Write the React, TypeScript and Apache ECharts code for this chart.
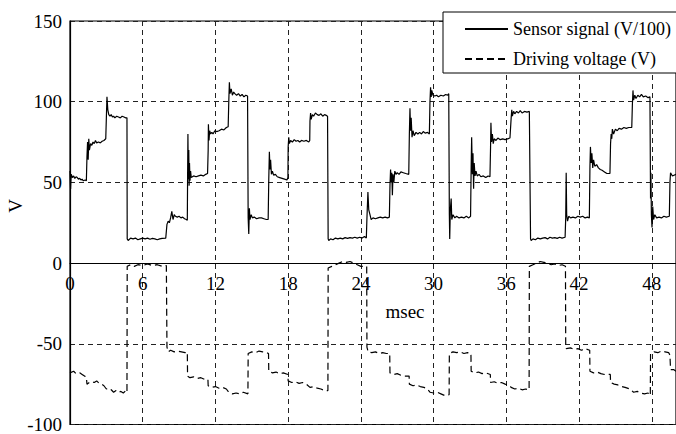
import React, { useEffect, useRef } from "react";
import * as echarts from "echarts";

const FONT = "Liberation Serif";

const xTicks = [0, 6, 12, 18, 24, 30, 36, 42, 48];
const yTicks = [-100, -50, 0, 50, 100, 150];
const legendNames = ["Sensor signal (V/100)", "Driving voltage (V)"];

// [msec, V/100]
const sensorSignal: [number, number][] = [
  [0, 57], [0.05, 46], [0.1, 55], [0.2, 53], [0.3, 54], [0.4, 52.5], [0.5, 53.5], [0.6, 53], [0.7, 52], [0.8, 52.5], [0.9, 51.5], [1.0, 52], [1.1, 51], [1.25, 51.5], [1.35, 51],
  [1.4, 66], [1.45, 75], [1.5, 64], [1.55, 77], [1.6, 70], [1.7, 74], [1.8, 73], [1.9, 75], [2.0, 74], [2.1, 76], [2.2, 74.5], [2.35, 75], [2.5, 74.5], [2.65, 75.5], [2.8, 76], [2.95, 77],
  [3.0, 90], [3.05, 103], [3.12, 95], [3.2, 92], [3.3, 91], [3.4, 92], [3.5, 90.5], [3.6, 91], [3.7, 90], [3.85, 91], [4.0, 90.5], [4.15, 90], [4.3, 91], [4.45, 90.5], [4.6, 90], [4.7, 90],
  [4.72, 15], [4.8, 14], [5.0, 15.5], [5.2, 15], [5.4, 15.5], [5.6, 14.5], [5.8, 15], [6.0, 15.5], [6.2, 15], [6.4, 15.5], [6.6, 14.8], [6.8, 15.3], [7.0, 15], [7.2, 14.5], [7.4, 15], [7.6, 15.3], [7.9, 15.5],
  [8.0, 24], [8.1, 26], [8.2, 25], [8.3, 28], [8.4, 32], [8.5, 27], [8.6, 30], [8.7, 29], [8.85, 28.5], [9.0, 29], [9.15, 28], [9.3, 28.5], [9.45, 27.5], [9.6, 27], [9.68, 26.5],
  [9.7, 50], [9.73, 80], [9.76, 52], [9.8, 70], [9.83, 48], [9.86, 62], [9.9, 51], [9.95, 57], [10.0, 53], [10.2, 54], [10.4, 53.5], [10.6, 54], [10.8, 54.5], [11.0, 54], [11.2, 55], [11.35, 55.5],
  [11.4, 70], [11.42, 86], [11.47, 76], [11.52, 82], [11.6, 80], [11.7, 81], [11.8, 80], [11.95, 82], [12.1, 81.5], [12.3, 82], [12.5, 83], [12.7, 82.5], [12.9, 84], [13.05, 84.5],
  [13.1, 100], [13.15, 112], [13.2, 105], [13.3, 108], [13.4, 104], [13.5, 106], [13.6, 105], [13.75, 104], [13.9, 105], [14.05, 103.5], [14.2, 104.5], [14.35, 103], [14.5, 104], [14.65, 103.5],
  [14.7, 28], [14.75, 18], [14.8, 34], [14.85, 27], [14.95, 30], [15.05, 28], [15.2, 28.5], [15.4, 27.5], [15.6, 28], [15.8, 28], [16.0, 27.5], [16.2, 27], [16.35, 27],
  [16.4, 52], [16.45, 69], [16.5, 58], [16.55, 64], [16.62, 55], [16.7, 57], [16.8, 54.5], [16.95, 55], [17.1, 53.5], [17.3, 53], [17.5, 52.5], [17.7, 52], [17.9, 51.5], [17.98, 53],
  [18.0, 72], [18.05, 78], [18.1, 74], [18.2, 76], [18.35, 75], [18.5, 76.5], [18.65, 75.5], [18.8, 76], [18.95, 75], [19.1, 76], [19.3, 75.5], [19.5, 76], [19.7, 75], [19.78, 76],
  [19.8, 88], [19.85, 93], [19.9, 89], [20.0, 92], [20.1, 91], [20.25, 93], [20.4, 92], [20.55, 91.5], [20.7, 92.5], [20.85, 91], [21.0, 92], [21.15, 91.5], [21.25, 91],
  [21.3, 15], [21.35, 14], [21.5, 15], [21.7, 14.5], [21.9, 15.5], [22.1, 15], [22.3, 15.5], [22.5, 15], [22.7, 15.8], [22.9, 15.3], [23.1, 15.8], [23.3, 15.5], [23.5, 16], [23.7, 15.5], [23.9, 16], [24.1, 15.5], [24.3, 16.5], [24.45, 15.5],
  [24.5, 28], [24.58, 44], [24.65, 33], [24.75, 30], [24.85, 27], [25.0, 28], [25.2, 27.5], [25.4, 28], [25.6, 28.5], [25.8, 28], [26.0, 28.5], [26.2, 28], [26.35, 28.5],
  [26.4, 48], [26.45, 58], [26.5, 50], [26.55, 56], [26.6, 42], [26.65, 55], [26.72, 50], [26.8, 57], [26.9, 55], [27.0, 56], [27.15, 55], [27.3, 56.5], [27.5, 56], [27.7, 55.5], [27.95, 55],
  [28.0, 80], [28.05, 96], [28.1, 82], [28.15, 90], [28.22, 78], [28.3, 82], [28.4, 79], [28.55, 81], [28.7, 80], [28.85, 81], [29.0, 80], [29.15, 81.5], [29.3, 80.5], [29.5, 81], [29.65, 80],
  [29.7, 100], [29.75, 109], [29.8, 103], [29.85, 107], [29.95, 104], [30.1, 103.5], [30.25, 104], [30.4, 103], [30.6, 104], [30.8, 103.5], [31.0, 104.5], [31.15, 104], [31.25, 105],
  [31.3, 30], [31.33, 15], [31.38, 33], [31.45, 40], [31.5, 27], [31.6, 30], [31.75, 28], [31.9, 29], [32.1, 28], [32.3, 28.5], [32.5, 28], [32.7, 29], [32.9, 28], [33.05, 29],
  [33.1, 60], [33.14, 78], [33.2, 55], [33.25, 68], [33.3, 46], [33.35, 62], [33.42, 54], [33.5, 57], [33.6, 54], [33.75, 55], [33.9, 53.5], [34.1, 54], [34.3, 53], [34.5, 54], [34.65, 53.5],
  [34.7, 72], [34.73, 87], [34.78, 75], [34.85, 80], [34.92, 74], [35.0, 77], [35.15, 76], [35.3, 77.5], [35.5, 76.5], [35.7, 77], [35.9, 76.5], [36.1, 77], [36.3, 77.5],
  [36.4, 90], [36.45, 95], [36.5, 91], [36.6, 94], [36.7, 92.5], [36.85, 94], [37.0, 93], [37.15, 94.5], [37.3, 93], [37.5, 94], [37.7, 93.5], [37.9, 94],
  [38.0, 15], [38.05, 14], [38.2, 15], [38.4, 14.5], [38.6, 15.5], [38.8, 15], [39.0, 15.5], [39.2, 15.8], [39.4, 15], [39.6, 16], [39.8, 15.5], [40.0, 15.8], [40.2, 15.3], [40.4, 16], [40.6, 15.5], [40.85, 16],
  [40.9, 28], [40.94, 56], [40.98, 30], [41.05, 26], [41.15, 29], [41.3, 28], [41.5, 28.5], [41.7, 28], [41.9, 29], [42.1, 28.5], [42.3, 29], [42.5, 28], [42.7, 28.5], [42.85, 28],
  [42.9, 60], [42.94, 72], [43.0, 62], [43.06, 68], [43.13, 59], [43.2, 64], [43.3, 60], [43.45, 61], [43.6, 59], [43.75, 58], [43.9, 57.5], [44.1, 56.5], [44.3, 55.5], [44.55, 55.5],
  [44.6, 74], [44.65, 80], [44.7, 77], [44.75, 83], [44.85, 80], [45.0, 83], [45.15, 82], [45.3, 83.5], [45.5, 83], [45.7, 84], [45.9, 83.5], [46.1, 84], [46.35, 84],
  [46.4, 98], [46.45, 107], [46.5, 101], [46.6, 104], [46.7, 102], [46.85, 104], [47.0, 103], [47.15, 104.5], [47.3, 103], [47.5, 103.5], [47.7, 102.5], [47.85, 103],
  [47.9, 40], [47.93, 56], [47.97, 30], [48.02, 22], [48.08, 35], [48.15, 27], [48.25, 30], [48.4, 28], [48.6, 28.5], [48.8, 28], [49.0, 29], [49.2, 28.5], [49.45, 29],
  [49.5, 50], [49.55, 56], [49.7, 54], [50.0, 55],
];

// [msec, V]
const drivingVoltage: [number, number][] = [
  [0, -68], [0.3, -67], [0.5, -68.5], [0.8, -68], [1.0, -69], [1.2, -70], [1.35, -70.5],
  [1.4, -75], [1.6, -74], [1.8, -73.5], [2.0, -74], [2.2, -73], [2.4, -74.5], [2.6, -75], [2.8, -76], [3.0, -78], [3.2, -77.5], [3.4, -78.5], [3.6, -80], [3.8, -79], [4.0, -80], [4.2, -79.5], [4.4, -80.5], [4.6, -79], [4.7, -80],
  [4.72, -2], [5.0, -1], [5.3, -2], [5.6, -1], [6.0, -1.5], [6.4, -0.5], [6.8, -1.5], [7.2, -1], [7.6, -2], [7.95, -1.5],
  [8.0, -52], [8.1, -55], [8.3, -54], [8.6, -55], [8.9, -54.5], [9.2, -55], [9.5, -55.5], [9.68, -55],
  [9.7, -70], [9.9, -71], [10.2, -70.5], [10.5, -71.5], [10.8, -71], [11.1, -72], [11.38, -72],
  [11.4, -76], [11.7, -77], [12.0, -76.5], [12.3, -77.5], [12.6, -77], [12.9, -78], [13.1, -80], [13.4, -81], [13.7, -80.5], [14.0, -81], [14.3, -80], [14.68, -81],
  [14.7, -56], [15.0, -55], [15.3, -55.5], [15.6, -54.5], [15.9, -55], [16.2, -55.5], [16.38, -56],
  [16.4, -67], [16.7, -68], [17.0, -67.5], [17.3, -68.5], [17.6, -68], [17.98, -69],
  [18.0, -73], [18.3, -74], [18.6, -73.5], [18.9, -74.5], [19.2, -74], [19.5, -75], [19.8, -77], [20.1, -76.5], [20.4, -77.5], [20.7, -78], [21.0, -79], [21.28, -79],
  [21.3, -3], [21.6, -2], [21.9, -1], [22.2, 0], [22.5, 1], [22.8, 0.5], [23.1, 1], [23.4, 0], [23.7, -1], [24.0, -2], [24.48, -2],
  [24.5, -52], [24.6, -55], [24.9, -55.5], [25.2, -55], [25.5, -56], [25.8, -55.5], [26.1, -56], [26.38, -56],
  [26.4, -68], [26.7, -69], [27.0, -68.5], [27.3, -69.5], [27.6, -70], [27.98, -70],
  [28.0, -75], [28.3, -76], [28.6, -75.5], [28.9, -76.5], [29.2, -77], [29.5, -78], [29.7, -80], [30.0, -80.5], [30.3, -80], [30.6, -81], [30.9, -82], [31.28, -81.5],
  [31.3, -56], [31.6, -55], [31.9, -55.5], [32.2, -55], [32.5, -56], [32.8, -55.5], [33.08, -56],
  [33.1, -67], [33.4, -68], [33.7, -67.5], [34.0, -68.5], [34.3, -68], [34.68, -69],
  [34.7, -74], [35.0, -73.5], [35.3, -74.5], [35.6, -74], [35.9, -75], [36.2, -75.5], [36.4, -77], [36.7, -78], [37.0, -77.5], [37.3, -78.5], [37.6, -78], [37.88, -78.5],
  [37.9, -2], [38.2, -1], [38.5, 0], [38.8, 1], [39.1, 0.5], [39.4, 0], [39.7, -1], [40.0, -0.5], [40.3, -1.5], [40.6, -1], [40.88, -2],
  [40.9, -50], [40.95, -53], [41.3, -52.5], [41.6, -53.5], [41.9, -53], [42.2, -54], [42.5, -53], [42.88, -54],
  [42.9, -67], [43.2, -68], [43.5, -67.5], [43.8, -68.5], [44.1, -69], [44.58, -69],
  [44.6, -74], [44.9, -75], [45.2, -75.5], [45.5, -76.5], [45.8, -77], [46.2, -78], [46.5, -80], [46.8, -79.5], [47.1, -80.5], [47.4, -81], [47.7, -80.5], [47.88, -82],
  [47.9, -56], [48.2, -55], [48.5, -55.5], [48.8, -54.5], [49.1, -55], [49.4, -55.5], [49.5, -57],
  [49.55, -66], [49.8, -66], [50, -67],
];

const GRID_TOP = 21;
const GRID_BOTTOM = 9;
const CHART_H = 434;

export default function App() {
  const ref = useRef<HTMLDivElement>(null);
  useEffect(() => {
    if (!ref.current) return;
    const chart = echarts.init(ref.current, undefined, { renderer: "svg" });
    const yMin = yTicks[0];
    const yMax = yTicks[yTicks.length - 1];
    const gridH = CHART_H - GRID_TOP - GRID_BOTTOM;
    // move the x axis (line + labels) up from the grid bottom to y = 0
    const xAxisOffset = -((0 - yMin) / (yMax - yMin)) * gridH;
    chart.setOption({
      animation: false,
      backgroundColor: "#fff",
      textStyle: { fontFamily: FONT },
      grid: {
        left: 70,
        top: GRID_TOP,
        right: -3,
        bottom: GRID_BOTTOM,
        show: true,
        borderColor: "#000",
        borderWidth: 1.2,
        backgroundColor: "transparent",
      },
      legend: {
        data: legendNames,
        orient: "vertical",
        left: 443,
        top: 12,
        padding: [7, 10, 4, 21],
        itemWidth: 43,
        itemHeight: 14,
        itemGap: 10,
        backgroundColor: "#fff",
        borderColor: "#000",
        borderWidth: 1,
        borderRadius: 0,
        selectedMode: false,
        itemStyle: { opacity: 0 },
        textStyle: { fontFamily: FONT, fontSize: 18, color: "#000", lineHeight: 20 },
      },
      xAxis: {
        type: "value",
        min: 0,
        max: 50,
        interval: 6,
        position: "bottom",
        offset: xAxisOffset,
        axisLine: { show: true, onZero: false, lineStyle: { color: "#000", width: 1.2 } },
        axisTick: { show: false },
        axisLabel: {
          margin: 11,
          fontFamily: FONT,
          fontSize: 19,
          color: "#000",
          showMaxLabel: false,
          formatter: (v: number) => (xTicks.includes(v) ? String(v) : ""),
        },
        splitLine: { show: true, lineStyle: { color: "#222", width: 1, type: [5, 4] } },
      },
      yAxis: {
        type: "value",
        min: yMin,
        max: yMax,
        interval: 50,
        axisLine: { show: true, lineStyle: { color: "#000", width: 1.2 } },
        axisTick: { show: false },
        axisLabel: {
          margin: 8,
          fontFamily: FONT,
          fontSize: 19,
          color: "#000",
          formatter: (v: number) => (yTicks.includes(v) ? String(v) : ""),
        },
        splitLine: { show: true, lineStyle: { color: "#222", width: 1, type: [5, 4] } },
      },
      graphic: [
        {
          type: "text",
          x: 15,
          y: 206,
          rotation: Math.PI / 2,
          style: { text: "V", fontFamily: FONT, fontSize: 19, fill: "#000", align: "center", verticalAlign: "middle" },
        },
        {
          type: "text",
          x: 405,
          y: 311,
          style: { text: "msec", fontFamily: FONT, fontSize: 19, fill: "#000", align: "center", verticalAlign: "middle" },
        },
      ],
      series: [
        {
          name: legendNames[0],
          type: "line",
          data: sensorSignal,
          symbol: "none",
          lineStyle: { color: "#000", width: 1.2 },
          itemStyle: { color: "#000" },
        },
        {
          name: legendNames[1],
          type: "line",
          data: drivingVoltage,
          symbol: "none",
          lineStyle: { color: "#000", width: 1.2, type: [7, 4] },
          itemStyle: { color: "#000" },
        },
      ],
    });
    return () => chart.dispose();
  }, []);
  return (
    <div
      ref={ref}
      style={{ position: "fixed", left: 0, top: 0, width: 676, height: 434, background: "#fff" }}
    />
  );
}
